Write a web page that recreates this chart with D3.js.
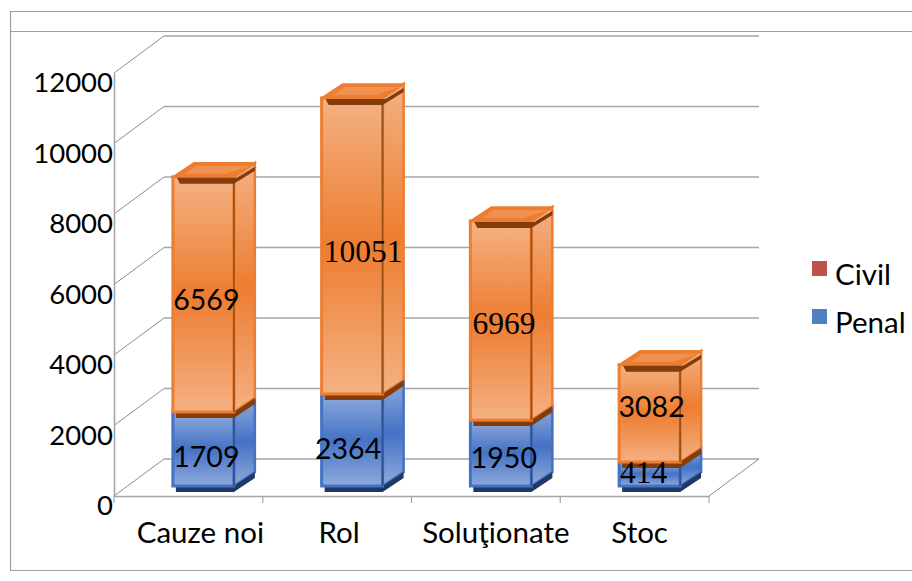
<!DOCTYPE html>
<html>
<head>
<meta charset="utf-8">
<script src="https://cdn.jsdelivr.net/npm/d3@7"></script>
<style>
html, body { margin: 0; padding: 0; background: #fff; overflow: hidden; }
svg { display: block; }
text { fill: #000; font-family: Lato, "Open Sans", sans-serif; }
</style>
</head>
<body>
<svg id="chart" width="912" height="581"></svg>
<script>
// categories and printed labels
var categories = ["Cauze noi", "Rol", "Soluţionate", "Stoc"];
var penalLabels = [1709, 2364, 1950, 414];
var civilLabels = [6569, 10051, 6969, 3082];
// the drawn heights do not follow the printed labels, so they are read off the bars
var penalValues = [2100, 2610, 1870, 680];
var civilValues = [6670, 8400, 5650, 2760];
var yTicks = [0, 2000, 4000, 6000, 8000, 10000, 12000];
var legendItems = ["Civil", "Penal"];
var serifLabels = [10051, 6969, 414];

var svg = d3.select("#chart");
var grey = "#a6a6a6";
var depth = {x: 50, y: -37};     // floor depth
var inset = {x: 15, y: -10};     // bar sits inside the floor
var side = {x: 21, y: -14};      // depth of one bar

var y = d3.scaleLinear().domain([0, 12000]).range([496, 73]);
var x = d3.scaleBand().domain(categories).range([114, 709]).paddingInner(0.59).paddingOuter(0.295);
var xStep = d3.scaleBand().domain(categories).range([114, 709]);

// chart frame
var frame = svg.append("g").attr("stroke", "#a0a0a0").attr("stroke-width", 1.2);
frame.append("line").attr("x1", 10).attr("x2", 912).attr("y1", 11.5).attr("y2", 11.5);
frame.append("line").attr("x1", 10).attr("x2", 912).attr("y1", 31.5).attr("y2", 31.5);
frame.append("line").attr("x1", 10).attr("x2", 912).attr("y1", 570.5).attr("y2", 570.5);
frame.append("line").attr("x1", 10.5).attr("x2", 10.5).attr("y1", 11).attr("y2", 570);

// walls
var walls = svg.append("g");
yTicks.forEach(function (t) {
	walls.append("line")
		.attr("x1", 114).attr("y1", y(t))
		.attr("x2", 114 + depth.x).attr("y2", y(t) + depth.y)
		.attr("stroke", "#8c8c8c").attr("stroke-width", 1);
	walls.append("line")
		.attr("x1", 114 + depth.x).attr("y1", y(t) + depth.y)
		.attr("x2", 709 + depth.x).attr("y2", y(t) + depth.y)
		.attr("stroke", grey).attr("stroke-width", 1.4);
});
walls.append("line")
	.attr("x1", 709).attr("y1", y(0))
	.attr("x2", 709 + depth.x).attr("y2", y(0) + depth.y)
	.attr("stroke", "#8c8c8c").attr("stroke-width", 1);

// axes
var yAxis = svg.append("g")
	.attr("transform", "translate(114,0)")
	.call(d3.axisLeft(y).tickValues(yTicks).tickSize(0).tickPadding(1).tickFormat(d3.format("d")));
yAxis.select(".domain").attr("stroke", grey).attr("stroke-width", 1.6);
yAxis.selectAll("text").style("font-size", "27.5px").attr("dy", "0.68em");

var xAxis = svg.append("g")
	.attr("transform", "translate(0,496)")
	.call(d3.axisBottom(xStep).tickSize(0).tickPadding(26));
xAxis.select(".domain").attr("stroke", grey).attr("stroke-width", 1.6);
xAxis.selectAll("text")
	.style("font-size", "29.5px")
	.attr("dx", function (d, i) { return [12, 2, 10, 5][i]; });
// separators between the categories
d3.range(5).forEach(function (i) {
	svg.append("line")
		.attr("x1", 114 + i * xStep.step()).attr("x2", 114 + i * xStep.step())
		.attr("y1", 496).attr("y2", 503)
		.attr("stroke", grey).attr("stroke-width", 1.2);
});

// gradients
var defs = svg.append("defs");
function gradient(id, end, mid) {
	var g = defs.append("linearGradient").attr("id", id).attr("x1", 0).attr("y1", 0).attr("x2", 0).attr("y2", 1);
	g.append("stop").attr("offset", "0%").attr("stop-color", end);
	g.append("stop").attr("offset", "50%").attr("stop-color", mid);
	g.append("stop").attr("offset", "100%").attr("stop-color", end);
}
gradient("orangeFront", "#f4b183", "#ed7d31");
gradient("blueFront", "#8faadc", "#4472c4");

var orange = {front: "url(#orangeFront)", line: "#ed7d31", inner: "#9c4f14", dark: "#843c0c"};
var blue = {front: "url(#blueFront)", line: "#4472c4", inner: "#2f528f", dark: "#1f3864"};

function poly(g, pts, fill, stroke, sw) {
	return g.append("polygon")
		.attr("points", pts.map(function (p) { return p.join(","); }).join(" "))
		.attr("fill", fill)
		.attr("stroke", stroke || "none")
		.attr("stroke-width", sw || 0);
}

function drawSegment(g, x0, x1, yTop, yBottom, c) {
	// side face
	poly(g, [[x1, yTop], [x1 + side.x, yTop + side.y], [x1 + side.x, yBottom + side.y], [x1, yBottom]],
		c.front, c.line, 2.5);
	// dark underside
	poly(g, [[x0 + 3, yBottom], [x1, yBottom], [x1 + side.x, yBottom + side.y],
		[x1 + side.x, yBottom + side.y + 6], [x1, yBottom + 6], [x0 + 3, yBottom + 6]], c.dark);
	// front face
	g.append("rect")
		.attr("x", x0).attr("y", yTop)
		.attr("width", x1 - x0).attr("height", yBottom - yTop)
		.attr("fill", c.front).attr("stroke", c.line).attr("stroke-width", 3);
	g.append("line")
		.attr("x1", x1).attr("x2", x1).attr("y1", yTop + 3).attr("y2", yBottom)
		.attr("stroke", c.inner).attr("stroke-width", 1.8);
}

function drawTop(g, x0, x1, yTop) {
	poly(g, [[x0, yTop], [x0 + side.x, yTop + side.y], [x1 + side.x, yTop + side.y], [x1, yTop]],
		"#ed7d31", "#ed7d31", 1.5);
	poly(g, [[x0 + 12, yTop - 3], [x0 + side.x + 2, yTop + side.y + 3],
		[x1 + side.x - 3, yTop + side.y + 3], [x1 - 8, yTop - 3]], "#f0914f");
	// shadow under the top face
	poly(g, [[x0 + 4, yTop + 1], [x1 + 3, yTop + 1], [x1 + side.x, yTop + side.y + 4],
		[x1 + side.x, yTop + side.y + 8], [x1, yTop + 7], [x0 + 7, yTop + 7]], orange.dark);
}

var bars = svg.append("g");
categories.forEach(function (cat, i) {
	var x0 = x(cat) + inset.x;
	var x1 = x0 + x.bandwidth();
	var yBase = y(0) + inset.y;
	var yMid = y(penalValues[i]) + inset.y;
	var yEnd = y(penalValues[i] + civilValues[i]) + inset.y;
	var g = bars.append("g");
	drawSegment(g, x0, x1, yMid, yBase, blue);
	drawSegment(g, x0, x1, yEnd, yMid, orange);
	drawTop(g, x0, x1, yEnd);
});

// data labels, hand placed in the original
var civilNudge = [[3, 4], [11, 3], [3, 0], [2, -8]];
var penalNudge = [[3, 6], [-4, 7], [3, 3], [-6, -4]];
function addLabels(values, segCenter, nudge) {
	svg.append("g").selectAll("text")
		.data(values)
		.enter().append("text")
		.attr("x", function (d, i) { return x(categories[i]) + inset.x + x.bandwidth() / 2 + nudge[i][0]; })
		.attr("y", function (d, i) { return segCenter(i) + nudge[i][1]; })
		.attr("dy", "0.35em")
		.attr("text-anchor", "middle")
		.style("font-family", function (d) { return serifLabels.indexOf(d) >= 0 ? "'Liberation Serif', serif" : null; })
		.style("font-size", function (d) { return serifLabels.indexOf(d) >= 0 ? "31.5px" : "28.5px"; })
		.text(function (d) { return d; });
}
addLabels(civilLabels, function (i) {
	return (y(penalValues[i]) + y(penalValues[i] + civilValues[i])) / 2 + inset.y + 2;
}, civilNudge);
addLabels(penalLabels, function (i) {
	return (y(0) + y(penalValues[i])) / 2 + inset.y + 2;
}, penalNudge);

// legend
var legendColor = d3.scaleOrdinal().domain(legendItems).range(["#c0504d", "#4f81bd"]);
var legend = svg.append("g").selectAll("g")
	.data(legendItems)
	.enter().append("g")
	.attr("transform", function (d, i) { return "translate(812," + (261 + i * 48) + ")"; });
legend.append("rect").attr("width", 15).attr("height", 15).attr("fill", legendColor);
legend.append("text").attr("x", 23).attr("y", 24).style("font-size", "29.5px").text(function (d) { return d; });
</script>
</body>
</html>
